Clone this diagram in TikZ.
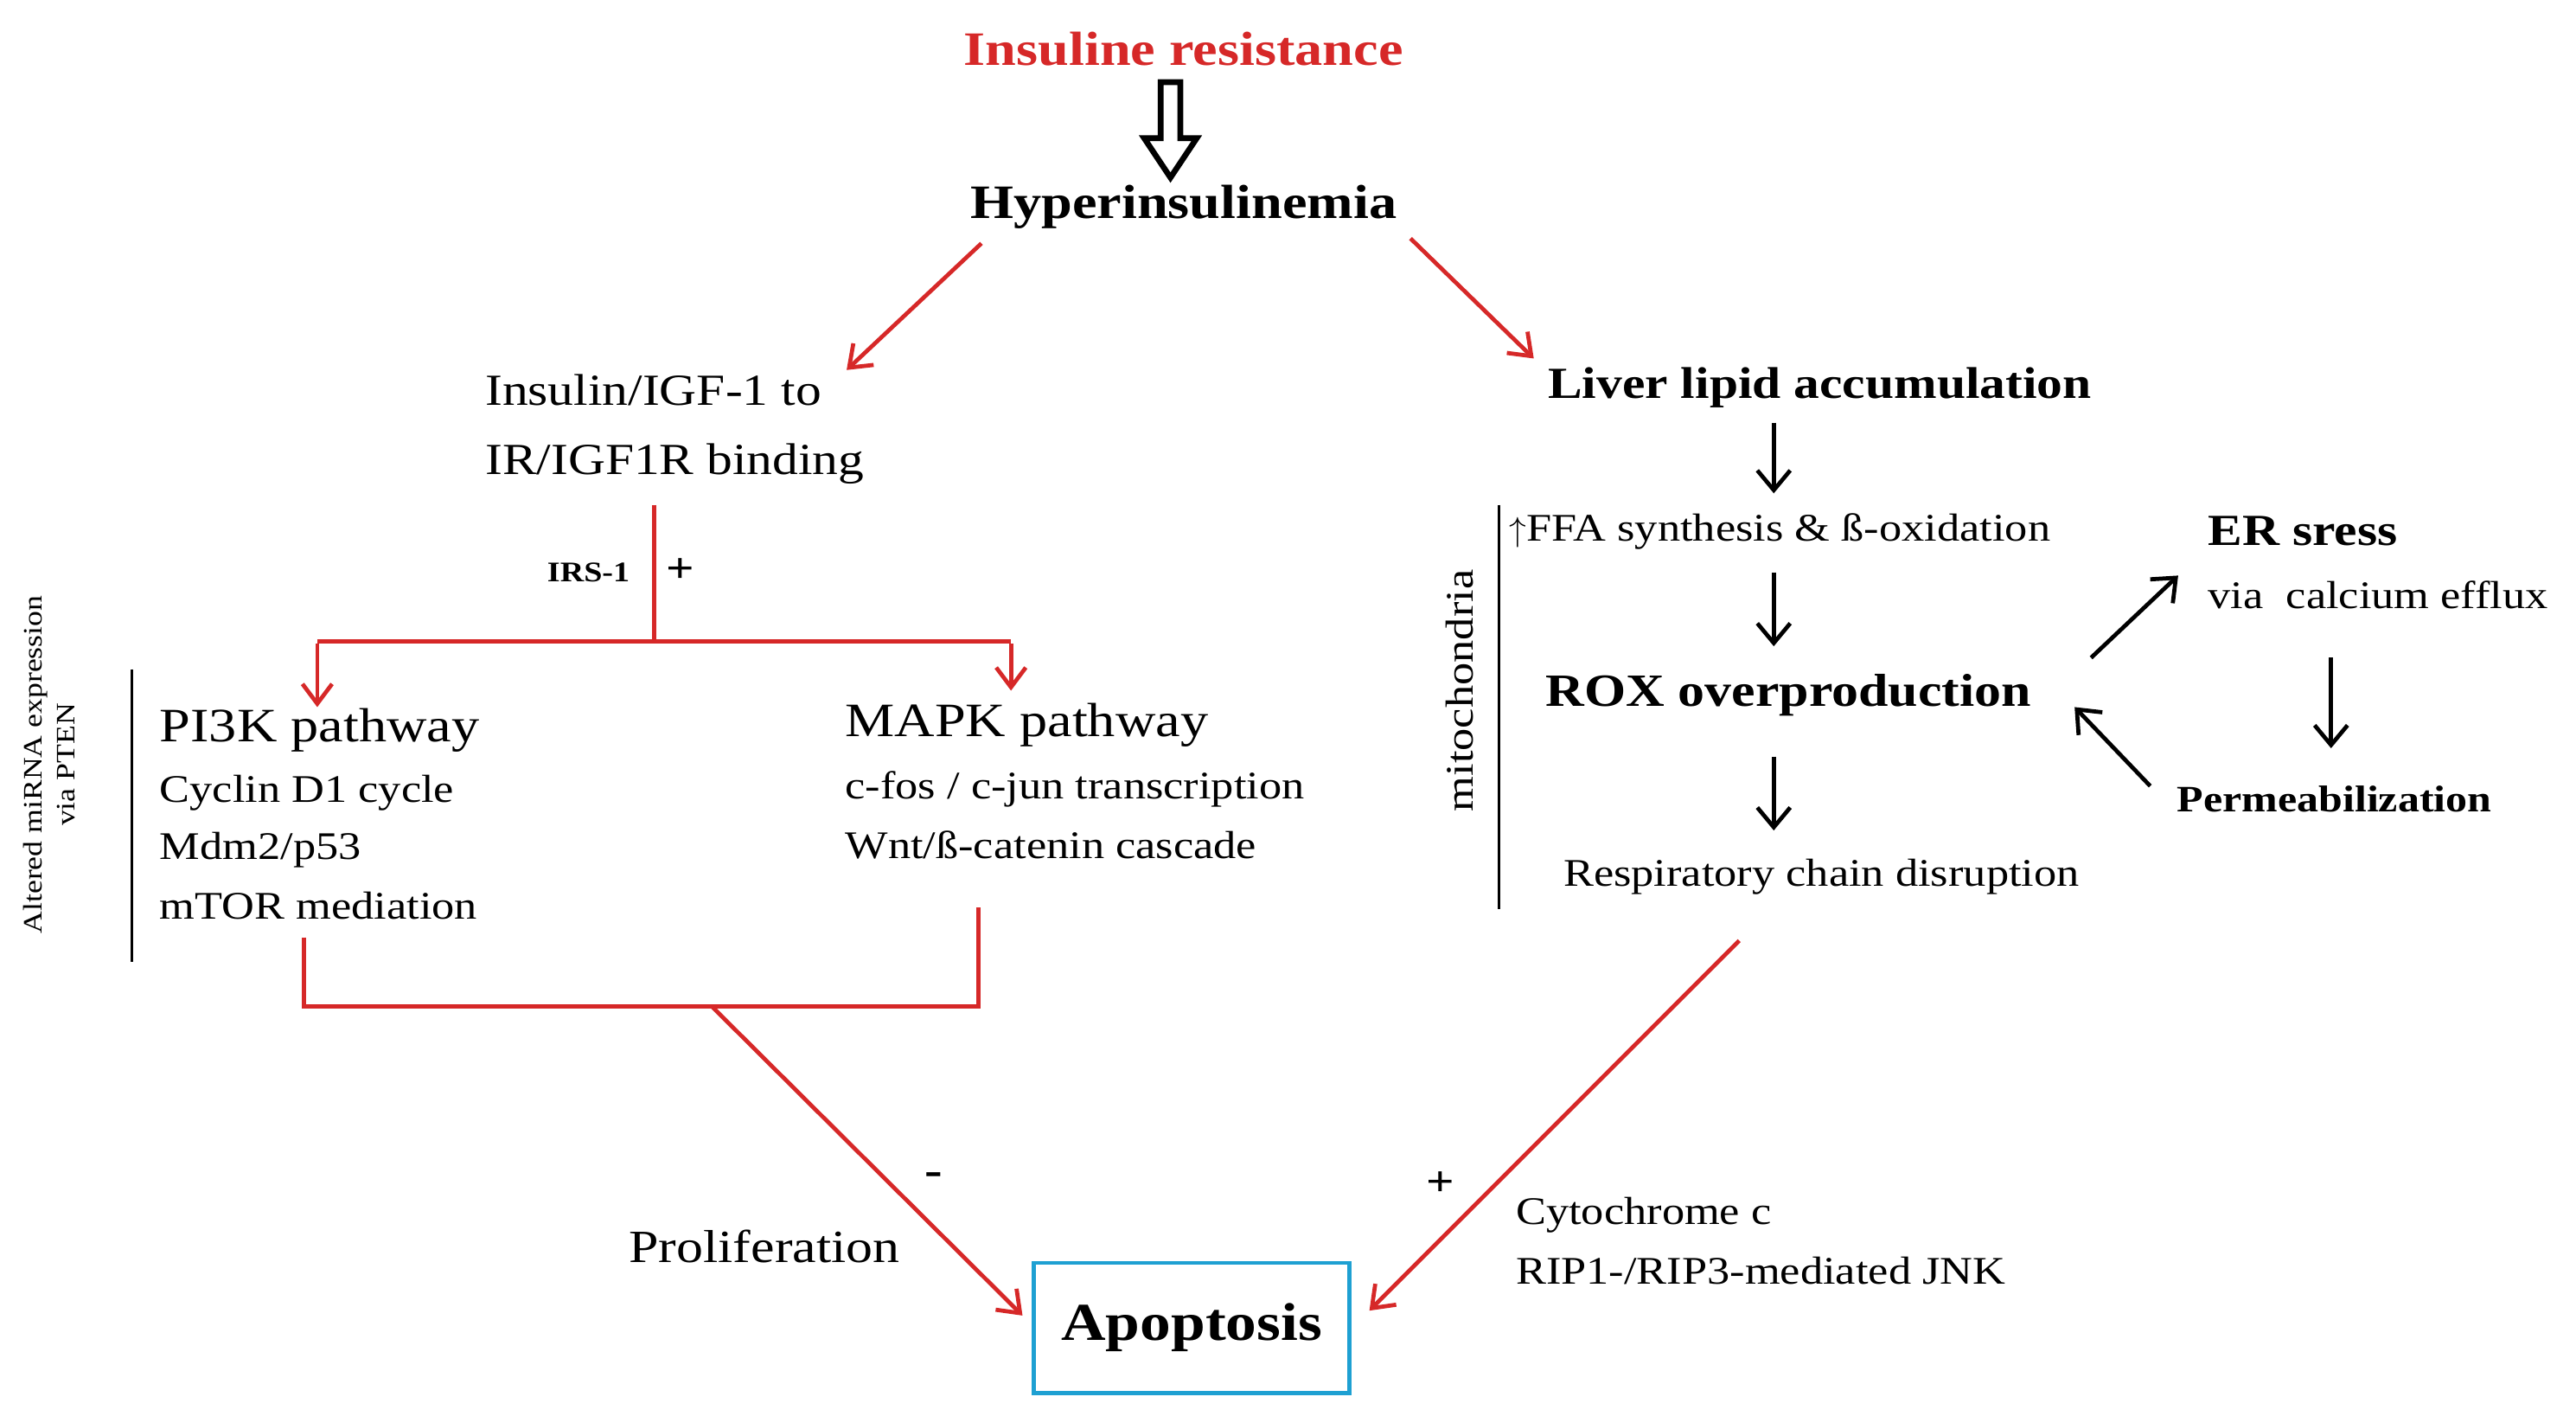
\documentclass[tikz,border=0pt]{standalone}
\usepackage{fontspec}
\setmainfont{Liberation Serif}[Scale=1.08,FakeStretch=1.16]
\usetikzlibrary{arrows.meta}
\definecolor{rd}{RGB}{214,40,40}
\definecolor{cy}{RGB}{30,160,210}
\begin{document}
\begin{tikzpicture}[x=1pt,y=-1pt,
 t/.style={inner sep=0pt,font=\fontsize{24}{28}\selectfont},
 s/.style={inner sep=0pt,font=\fontsize{22}{26}\selectfont},
 ra/.style={draw=rd,line width=2.5pt,-{Straight Barb[length=12pt,width=18pt]}},
 rl/.style={draw=rd,line width=2.5pt},
 ba/.style={draw=black,line width=2.5pt,-{Straight Barb[length=12pt,width=20pt]}}]
\useasboundingbox (0,0) rectangle (1567,861);
\node[t,font=\fontsize{27}{32}\selectfont\bfseries,text=rd] (ir) at (720,30) {Insuline resistance};
\node[t,font=\fontsize{27}{32}\selectfont\bfseries] (hy) at (720,126) {Hyperinsulinemia};
\draw[line width=3.5pt,line join=miter] (706,50) -- (718,50) -- (718,84) -- (728,84) -- (712,108) -- (696,84) -- (706,84) -- cycle;
\node[t,font=\fontsize{25}{42}\selectfont,align=left,anchor=west] (ins) at (295,261) {Insulin/IGF-1 to\\IR/IGF1R binding};
\node[t,font=\fontsize{25}{30}\selectfont\bfseries] (liv) at (1107,236) {Liver lipid accumulation};
\coordinate (h1) at (597,148); \coordinate (h2) at (515,225);
\coordinate (h3) at (858,145); \coordinate (h4) at (933,218);
\draw[ra] (h1) -- (h2); \draw[ra] (h3) -- (h4);
% right
\coordinate (m1) at (912,307); \coordinate (m2) at (912,553);
\draw[line width=1.5pt] (m1) -- (m2);
\node[s,rotate=90] (mito) at (888,420) {mitochondria};
\node[s,anchor=west] (ffa) at (918,323) {$\uparrow$FFA synthesis \& ß-oxidation};
\node[t,font=\fontsize{26}{30}\selectfont\bfseries] (rox) at (1088,423) {ROX overproduction};
\node[s] (resp) at (1108,533) {Respiratory chain disruption};
\node[t,font=\fontsize{25}{30}\selectfont\bfseries,anchor=west] (er) at (1343,323) {ER sress};
\node[s,anchor=west] (ca) at (1343,362) {via\ \ calcium efflux};
\node[s,font=\fontsize{21}{26}\selectfont\bfseries] (perm) at (1420,486) {Permeabilization};
\coordinate (a1) at (1079,257); \coordinate (a2) at (1079,300);
\coordinate (a3) at (1079,348); \coordinate (a4) at (1079,393);
\coordinate (a5) at (1079,460); \coordinate (a6) at (1079,505);
\coordinate (b1) at (1272,400); \coordinate (b2) at (1325,350);
\coordinate (b3) at (1418,400); \coordinate (b4) at (1418,455);
\coordinate (b5) at (1308,478); \coordinate (b6) at (1262,430);
\foreach \p/\q in {a1/a2,a3/a4,a5/a6,b1/b2,b3/b4,b5/b6} \draw[ba] (\p) -- (\q);
% left
\coordinate (c1) at (398,307); \coordinate (c2) at (398,390);
\coordinate (c3) at (193,390); \coordinate (c4) at (615,390);
\coordinate (c5) at (193,430); \coordinate (c6) at (615,420);
\draw[rl] (c1) -- (c2); \draw[rl] (c3) -- (c4);
\draw[ra] ([yshift=-1.25pt]c3) -- (c5); \draw[ra] ([yshift=-1.25pt]c4) -- (c6);
\node[inner sep=0pt,font=\fontsize{16}{20}\selectfont\bfseries] (irs) at (358,348) {IRS-1};
\node[t,font=\fontsize{24}{28}\selectfont\bfseries] (pl1) at (414,347) {+};
\coordinate (v1) at (80,407); \coordinate (v2) at (80,585);
\draw[line width=1.5pt] (v1) -- (v2);
\node[inner sep=0pt,rotate=90,align=center,font=\fontsize{15}{20}\selectfont] (mirna) at (30,465) {Altered miRNA expression\\via PTEN};
\node[t,font=\fontsize{27}{32}\selectfont,anchor=west] (pi) at (97,444) {PI3K pathway};
\node[s,anchor=west] (cyc) at (97,482) {Cyclin D1 cycle};
\node[s,anchor=west] (mdm) at (97,517) {Mdm2/p53};
\node[s,anchor=west] (mtor) at (97,551) {mTOR mediation};
\node[t,font=\fontsize{27}{32}\selectfont,anchor=west] (mapk) at (514,441) {MAPK pathway};
\node[s,anchor=west] (fos) at (514,480) {c-fos / c-jun transcription};
\node[s,anchor=west] (wnt) at (514,514) {Wnt/ß-catenin cascade};
\coordinate (d1) at (185,570); \coordinate (d2) at (185,612);
\coordinate (d3) at (595,612); \coordinate (d4) at (595,552);
\draw[rl,line join=miter] (d1) -- (d2) -- (d3) -- (d4);
\coordinate (e1) at (433,612); \coordinate (e2) at (622,800);
\draw[ra] (e1) -- (e2);
\node[t,font=\fontsize{26}{30}\selectfont\bfseries] (minus) at (568,717) {-};
\node[t,font=\fontsize{26}{30}\selectfont] (prol) at (465,758) {Proliferation};
\coordinate (f1) at (1058,572); \coordinate (f2) at (833,797);
\draw[ra] (f1) -- (f2);
\node[t,font=\fontsize{24}{28}\selectfont\bfseries] (plus) at (876,720) {+};
\node[s,anchor=west] (cyt) at (922,739) {Cytochrome c};
\node[s,anchor=west] (rip) at (922,773) {RIP1-/RIP3-mediated JNK};
\node[draw=cy,line width=2.5pt,minimum width=192pt,minimum height=79pt,inner sep=0pt,font=\fontsize{30}{36}\selectfont\bfseries] (apo) at (725,807.5) {Apoptosis};
\end{tikzpicture}
\end{document}
